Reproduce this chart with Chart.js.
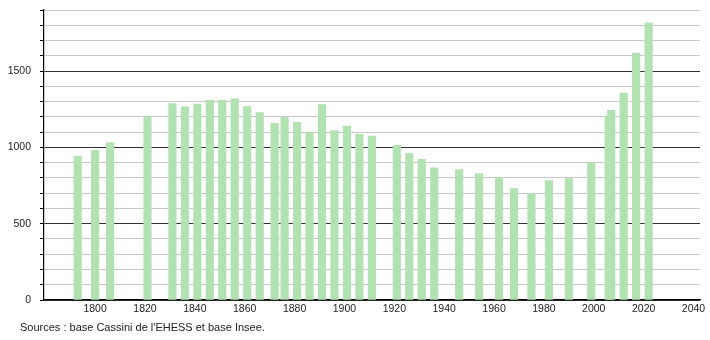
<!DOCTYPE html>
<html>
<head>
<meta charset="utf-8">
<script src="https://cdn.jsdelivr.net/npm/chart.js@4"></script>
<style>
  body { margin: 0; background: #fff; }
  #wrap { position: relative; width: 710px; height: 340px; }
  #source {
    position: absolute; left: 20px; top: 321px;
    font: 11px "Liberation Sans", Arial, sans-serif; color: #222;
  }
</style>
</head>
<body>
<div id="wrap">
  <canvas id="popChart"></canvas>
  <div id="source">Sources : base Cassini de l'EHESS et base Insee.</div>
</div>
<script>
// census years and population
const years = [1793, 1800, 1806, 1821, 1831, 1836, 1841, 1846, 1851, 1856,
  1861, 1866, 1872, 1876, 1881, 1886, 1891, 1896, 1901, 1906, 1911,
  1921, 1926, 1931, 1936, 1946, 1954, 1962, 1968, 1975, 1982, 1990,
  1999, 2006, 2007, 2012, 2017, 2022];
const population = [943, 980, 1031, 1202, 1287, 1265, 1283, 1309, 1309, 1318,
  1268, 1228, 1158, 1199, 1164, 1097, 1281, 1110, 1140, 1086, 1074,
  1013, 961, 921, 866, 855, 829, 800, 730, 697, 783, 796,
  899, 1206, 1243, 1355, 1618, 1816];
const xLabels = [1800, 1820, 1840, 1860, 1880, 1900, 1920, 1940, 1960, 1980, 2000, 2020, 2040];

const points = years.map((y, i) => ({ x: y, y: population[i] }));

const ctx = document.getElementById('popChart').getContext('2d');
new Chart(ctx, {
  type: 'bar',
  data: {
    datasets: [{
      data: points,
      backgroundColor: 'rgb(178,226,178)',
      barThickness: 7.5
    }]
  },
  options: {
    responsive: true,
    maintainAspectRatio: false,
    animation: false,
    layout: { padding: { top: 10, right: 10, left: 0, bottom: 0 } },
    plugins: { legend: { display: false }, tooltip: { enabled: false } },
    scales: {
      x: {
        type: 'linear',
        offset: false,
        min: 1779.5,
        max: 2042.6,
        afterFit: s => { s.height = 40; s.paddingLeft = 0; s.paddingRight = 0; },
        afterBuildTicks: s => { s.ticks = xLabels.map(v => ({ value: v })); },
        grid: { display: false, drawTicks: false },
        border: { color: '#000', width: 1.2 },
        ticks: {
          padding: 3,
          color: '#222',
          maxRotation: 0,
          autoSkip: false,
          font: { family: 'Liberation Sans', size: 10.5 },
          callback: v => String(v)
        }
      },
      y: {
        min: 0,
        max: 1900,
        afterFit: s => { s.width = 44; s.paddingTop = 0; s.paddingBottom = 0; },
        border: { color: '#000', width: 1.2 },
        grid: {
          color: c => (c.tick && c.tick.value % 500 === 0) ? '#333' : '#c8c8c8',
          tickColor: '#000',
          tickLength: 4
        },
        ticks: {
          stepSize: 100,
          maxTicksLimit: 100,
          autoSkip: false,
          padding: 9,
          color: '#222',
          font: { family: 'Liberation Sans', size: 10.5 },
          callback: v => (v % 500 === 0) ? String(v) : ''
        }
      }
    }
  }
});
</script>
</body>
</html>
